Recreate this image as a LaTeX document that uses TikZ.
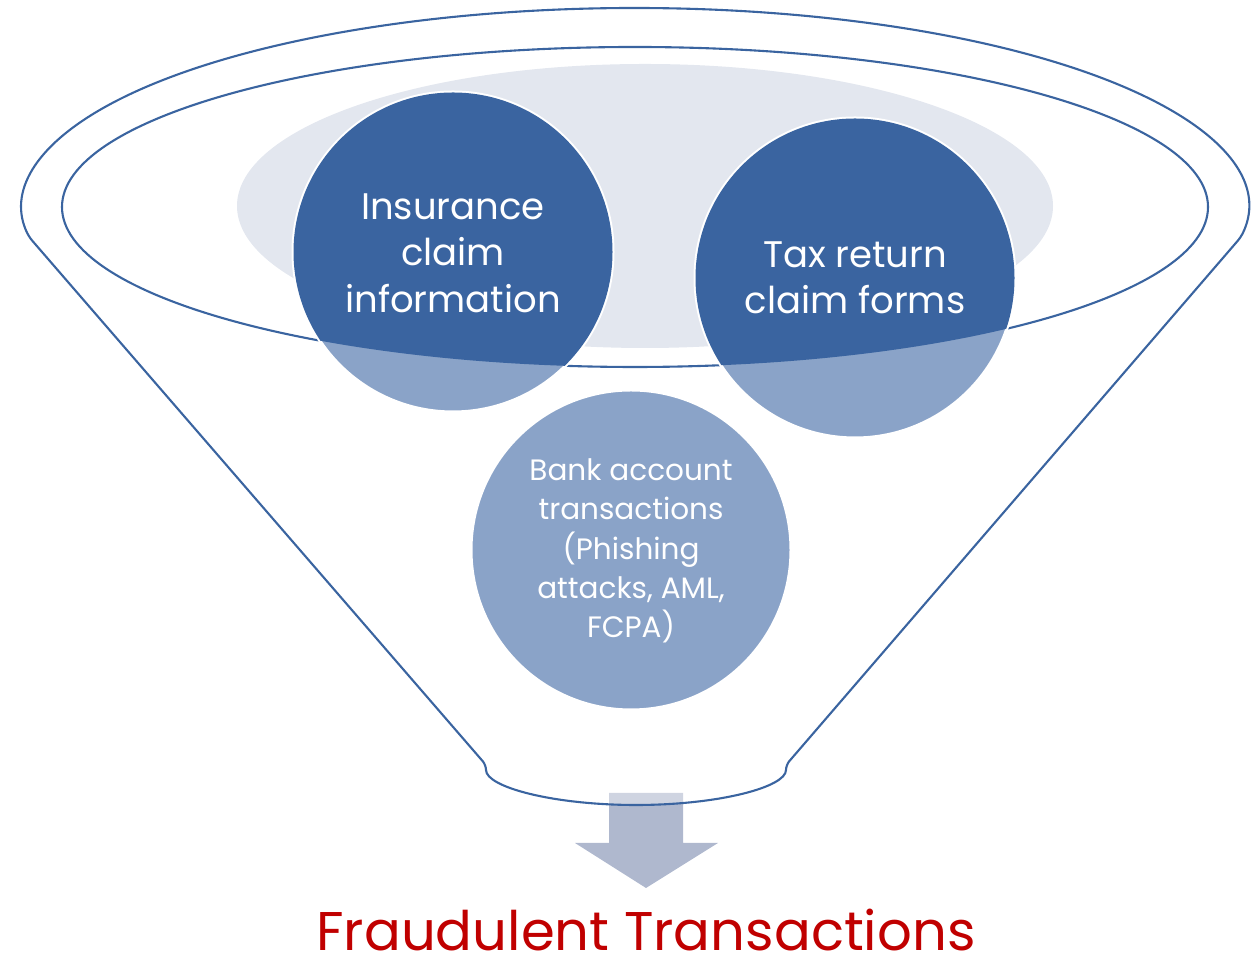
\documentclass[tikz,border=0pt]{standalone}
\usepackage{fontspec}
\setmainfont{Poppins}
\definecolor{dblue}{HTML}{3A64A0}
\definecolor{lblue}{HTML}{8AA3C8}
\definecolor{bgell}{HTML}{E3E7EF}
\definecolor{arrowc}{HTML}{AFB8CE}
\definecolor{fraud}{HTML}{C00000}
\tikzset{
  outline/.style={draw=dblue, line width=2.1pt},
  bubble/.style={circle, minimum size=320pt, inner sep=0pt, draw=white, line width=3pt},
  bubbletext/.style={text=white, align=center},
  bigtext/.style={font=\fontsize{37}{46.5}\selectfont},
  smalltext/.style={font=\fontsize{29.5}{39.3}\selectfont},
}
\begin{document}
\begin{tikzpicture}[x=1pt,y=1pt]
\useasboundingbox (0,0) rectangle (1258,957);
% arrow
\fill[arrowc] (609,164) -- (683,164) -- (683,114) -- (718,114) -- (646,69) -- (575,114) -- (609,114) -- cycle;
% funnel
\coordinate (ftop) at (635,949);
\coordinate (fbl) at (486,192);
\coordinate (fr) at (1241,720);
\path[fill=white, fill opacity=0.4] (ftop) arc (90:188.67:613 and 199) -- (fbl) arc (180:360:150 and 40) -- (fr) arc (-8.67:90:613 and 199) -- cycle;
\draw[outline, line join=round, rounded corners=5pt] (ftop) arc (90:188.67:613 and 199) -- (fbl) arc (180:360:150 and 40) -- (fr) arc (-8.67:91:613 and 199);
% inner ellipse
\draw[outline] (635,750) ellipse (573 and 160);
% light background ellipse
\fill[bgell] (645,751) ellipse (408 and 142);
% circles
\node[bubble, fill=lblue] (ins) at (453,705) {};
\node[bubble, fill=lblue] (tax) at (855,679) {};
\node[bubble, fill=lblue] (bank) at (631,407) {};
\begin{scope}
  \clip (635,750) ellipse (573 and 160);
  \fill[dblue] (ins.center) circle (159.5);
  \fill[dblue] (tax.center) circle (159.5);
\end{scope}
\node[bubbletext, bigtext] (inst) at (453,704) {Insurance\\claim\\information};
\node[bubbletext, bigtext] (taxt) at (855,679) {Tax return\\claim forms};
\node[bubbletext, smalltext] (bankt) at (631,406) {Bank account\\transactions\\(Phishing\\attacks, AML,\\FCPA)};
% label
\node[text=fraud, font=\fontsize{54.5}{60}\selectfont, inner sep=0pt, anchor=base] (out) at (646,6) {Fraudulent Transactions};
\end{tikzpicture}
\end{document}
